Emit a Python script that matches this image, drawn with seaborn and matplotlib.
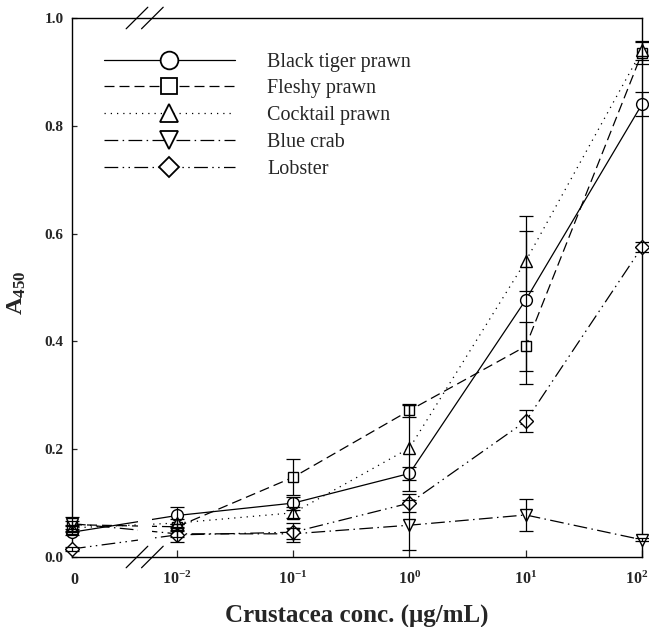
import numpy as np
import pandas as pd
import matplotlib
matplotlib.use("Agg")
import matplotlib.pyplot as plt
from matplotlib.lines import Line2D
from matplotlib.patches import Rectangle
import matplotlib.transforms as mtransforms
import seaborn as sns

# ---------------- data ----------------
concentrations = [0, 0.01, 0.1, 1, 10, 100]
tick_labels = ["0", r"$\mathbf{10^{-2}}$", r"$\mathbf{10^{-1}}$", r"$\mathbf{10^{0}}$",
               r"$\mathbf{10^{1}}$", r"$\mathbf{10^{2}}$"]
species = ["Black tiger prawn", "Fleshy prawn", "Cocktail prawn", "Blue crab", "Lobster"]

black_tiger = [0.046, 0.077, 0.100, 0.155, 0.477, 0.840]
black_tiger_err = [0.006, 0.016, 0.012, 0.012, 0.156, 0.022]
fleshy = [0.060, 0.056, 0.148, 0.272, 0.391, 0.935]
fleshy_err = [0.014, 0.006, 0.033, 0.012, 0.045, 0.020]
cocktail = [0.054, 0.063, 0.082, 0.202, 0.549, 0.940]
cocktail_err = [0.006, 0.008, 0.010, 0.080, 0.056, 0.018]
blue_crab = [0.062, 0.043, 0.043, 0.059, 0.078, 0.032]
blue_crab_err = [0.005, 0.005, 0.010, 0.046, 0.030, 0.003]
lobster = [0.015, 0.041, 0.046, 0.100, 0.252, 0.575]
lobster_err = [0.003, 0.013, 0.018, 0.017, 0.021, 0.010]

values = [black_tiger, fleshy, cocktail, blue_crab, lobster]
errors = [black_tiger_err, fleshy_err, cocktail_err, blue_crab_err, lobster_err]

# ---------------- scale (broken log axis) ----------------
ZERO_POS = -2.903  # position of the "0" concentration left of the axis break


def to_pos(c):
    return ZERO_POS if c == 0 else np.log10(c)


rows = []
for sp, vals, errs in zip(species, values, errors):
    for c, v, e in zip(concentrations, vals, errs):
        rows.append({"species": sp, "pos": to_pos(c), "A": v, "err": e})
df = pd.DataFrame(rows)

# ---------------- style ----------------
sns.set_style("ticks")
plt.rcParams["font.family"] = ["Liberation Serif", "DejaVu Serif"]
plt.rcParams["mathtext.fontset"] = "custom"
plt.rcParams["mathtext.rm"] = "Liberation Serif"
plt.rcParams["mathtext.bf"] = "Liberation Serif:bold"
plt.rcParams["mathtext.it"] = "Liberation Serif:italic"

LW = 0.9
markers = {"Black tiger prawn": "o", "Fleshy prawn": "s", "Cocktail prawn": "^",
           "Blue crab": "v", "Lobster": "D"}
dashes = {"Black tiger prawn": "",
          "Fleshy prawn": (8, 4),
          "Cocktail prawn": (1, 4),
          "Blue crab": (11, 3.5, 1.2, 3.5),
          "Lobster": (11, 3.5, 1.2, 3.5, 1.2, 3.5)}
msize = {"o": 8.5, "s": 7.5, "^": 8.5, "v": 8.5, "D": 7.0}

fig = plt.figure(figsize=(6.49, 6.27), dpi=100)
ax = fig.add_axes([72 / 649, 1 - 557 / 627, 570 / 649, 539 / 627])

sns.lineplot(data=df, x="pos", y="A", hue="species", style="species",
             palette=["black"] * 5, markers=markers, dashes=dashes,
             linewidth=LW, markersize=8, markerfacecolor="white",
             markeredgecolor="black", markeredgewidth=1.0,
             legend=False, ax=ax, zorder=3, clip_on=False)

# marker sizes per shape
for line, sp in zip(ax.lines, species):
    line.set_markersize(msize[markers[sp]])
    line.set_clip_on(False)

# error bars (on top of markers, as in reference)
for sp in species:
    sub = df[df.species == sp]
    eb = ax.errorbar(sub["pos"], sub["A"], yerr=sub["err"], fmt="none", ecolor="black",
                     elinewidth=LW, capsize=4.7, capthick=LW, zorder=4)
    for art in eb.lines[1] + eb.lines[2]:
        art.set_clip_on(False)

# gap in the lines at the axis break
gap_l, gap_r = -2.335, -2.215
ax.add_patch(Rectangle((gap_l, 0.004), gap_r - gap_l, 0.14, facecolor="white",
                       edgecolor="none", zorder=3.5))

# axis limits / ticks
ax.set_xlim(ZERO_POS, 2.0)
ax.set_ylim(0, 1.0)
xt = [to_pos(c) for c in concentrations]
ax.set_xticks(xt[1:])
ax.set_xticklabels(tick_labels[1:])
ax.set_yticks(np.arange(0, 1.01, 0.2))
ax.set_yticklabels([f"{v:.1f}" for v in np.arange(0, 1.01, 0.2)])
ax.tick_params(axis="x", direction="in", length=5, width=0.9, labelsize=11.5, pad=10)
ax.tick_params(axis="y", direction="in", length=3.6, width=0.9, labelsize=11, pad=6)
for lab in ax.get_yticklabels():
    lab.set_fontweight("bold")
# nudge the right-most label inside the figure
last = ax.get_xticklabels()[-1]
last.set_transform(last.get_transform() +
                   mtransforms.ScaledTranslation(-5 / 100, 0, fig.dpi_scale_trans))
# "0" label at the left end (no tick)
ax.text(ZERO_POS + 0.02, -0.028, "0", ha="center", va="top", fontsize=11.5,
        fontweight="bold", transform=ax.transData)

for s in ax.spines.values():
    s.set_visible(True)
    s.set_linewidth(1.0)
    s.set_color("black")

# axis break marks
for cx in (0.114, 0.141):
    for cy in (0.0, 1.0):
        ax.plot([cx - 0.019, cx + 0.019], [cy - 0.02, cy + 0.02], color="black",
                lw=0.9, transform=ax.transAxes, clip_on=False, zorder=6)

ax.set_xlabel("Crustacea conc. (μg/mL)", fontsize=18, fontweight="bold", labelpad=12)
ax.set_ylabel(r"$\mathbf{A_{450}}$", fontsize=17.5)
ax.yaxis.set_label_coords(-0.077, 0.49)

# legend
handles = []
for sp in species:
    h = Line2D([], [], color="black", lw=LW,
               linestyle="-",
               marker=markers[sp], markersize=msize[markers[sp]] * 1.5,
               markerfacecolor="white", markeredgecolor="black",
               markeredgewidth=1.3)
    if dashes[sp]:
        h.set_dashes(dashes[sp])
    handles.append(h)
leg = ax.legend(handles, species, loc="upper left", bbox_to_anchor=(0.056, 0.936),
                frameon=False, fontsize=14.5, handlelength=6.5, handletextpad=1.6,
                labelspacing=0.38, borderpad=0, borderaxespad=0, numpoints=1)

fig.savefig("out.png", dpi=100)
